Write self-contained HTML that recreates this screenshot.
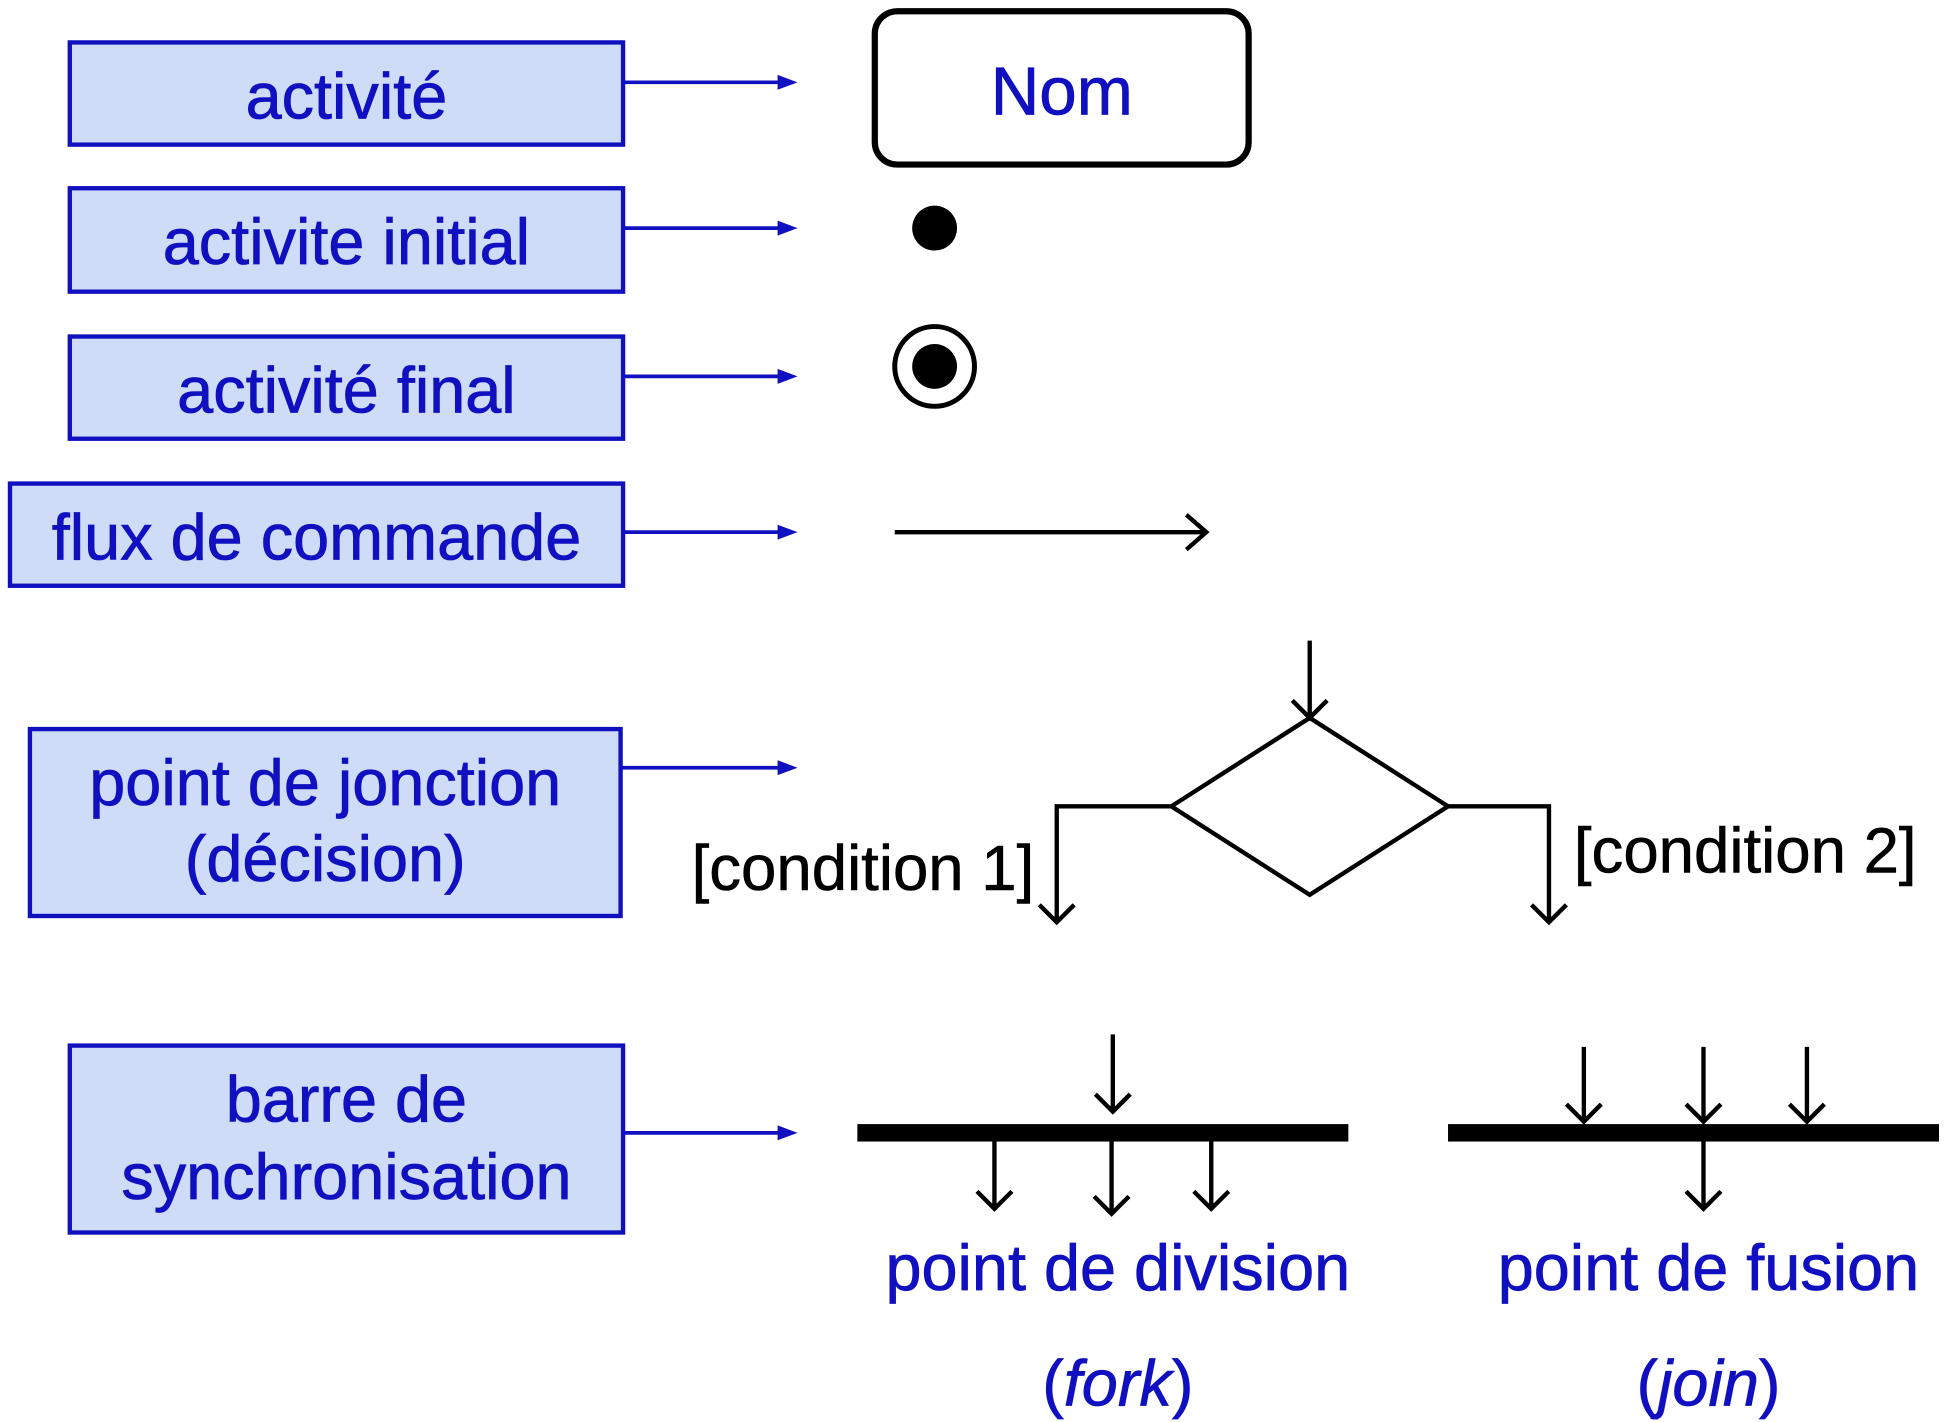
<!DOCTYPE html>
<html><head><meta charset="utf-8"><style>html,body{margin:0;padding:0;background:#fff}svg{display:block}</style></head>
<body>
<svg width="1944" height="1422" viewBox="0 0 1560 1141" xmlns="http://www.w3.org/2000/svg" font-family="Liberation Sans, sans-serif">
<g fill="#cfdcf8" stroke="#1010c0" stroke-width="3.5">
<rect x="56" y="34" width="444" height="82"/>
<rect x="56" y="151" width="444" height="83"/>
<rect x="56" y="270" width="444" height="82"/>
<rect x="8" y="388" width="492" height="82"/>
<rect x="24" y="585" width="474" height="150"/>
<rect x="56" y="839" width="444" height="150"/>
</g>
<g fill="#1010c0" stroke="#1010c0" stroke-width="0.6" font-size="52" text-anchor="middle">
<text x="278" y="95">activité</text>
<text x="278" y="212">activite initial</text>
<text x="278" y="331">activité final</text>
<text x="254" y="449">flux de commande</text>
<text x="261" y="646">point de jonction</text>
<text x="261" y="707">(décision)</text>
<text x="278" y="900">barre de</text>
<text x="278" y="962">synchronisation</text>
<text x="852" y="92" font-size="54">Nom</text>
<text x="897" y="1035">point de division</text>
<text x="1371" y="1035">point de fusion</text>
<text x="897" y="1128">(<tspan font-style="italic">fork</tspan>)</text>
<text x="1371" y="1128">(<tspan font-style="italic">join</tspan>)</text>
</g>
<g stroke="#1010c0" stroke-width="3" fill="none">
<line x1="500" y1="66" x2="630" y2="66"/><line x1="500" y1="183" x2="630" y2="183"/>
<line x1="500" y1="302" x2="630" y2="302"/><line x1="500" y1="427" x2="630" y2="427"/>
<line x1="498" y1="616" x2="630" y2="616"/><line x1="500" y1="909" x2="630" y2="909"/>
</g>
<g fill="#1010c0">
<path d="M624,60 L640,66 L624,72z"/><path d="M624,177 L640,183 L624,189z"/>
<path d="M624,296 L640,302 L624,308z"/><path d="M624,421 L640,427 L624,433z"/>
<path d="M624,610 L640,616 L624,622z"/><path d="M624,903 L640,909 L624,915z"/>
</g>
<rect x="702" y="9" width="300" height="123" rx="18" fill="none" stroke="#000" stroke-width="5"/>
<circle cx="750" cy="183" r="18" fill="#000"/>
<circle cx="750" cy="294" r="32" fill="none" stroke="#000" stroke-width="4"/>
<circle cx="750" cy="294" r="18" fill="#000"/>
<g stroke="#000" stroke-width="3.5" fill="none">
<line x1="718" y1="427" x2="968" y2="427"/><path d="M952,413 L968,427 L952,441"/>
<path d="M1051,576 L1162,647 L1051,718 L940,647z"/>
<line x1="1051" y1="514" x2="1051" y2="576"/><path d="M1037,562 L1051,576 L1065,562"/>
<path d="M940,647 L848,647 L848,740"/><path d="M834,726 L848,740 L862,726"/>
<path d="M1162,647 L1243,647 L1243,740"/><path d="M1229,726 L1243,740 L1257,726"/>
<line x1="893" y1="830" x2="893" y2="892"/><path d="M879,878 L893,892 L907,878"/>
<line x1="798" y1="916" x2="798" y2="970"/><path d="M784,956 L798,970 L812,956"/>
<line x1="892" y1="916" x2="892" y2="974"/><path d="M878,960 L892,974 L906,960"/>
<line x1="972" y1="916" x2="972" y2="970"/><path d="M958,956 L972,970 L986,956"/>
<line x1="1271" y1="840" x2="1271" y2="900"/><path d="M1257,886 L1271,900 L1285,886"/>
<line x1="1367" y1="840" x2="1367" y2="900"/><path d="M1353,886 L1367,900 L1381,886"/>
<line x1="1450" y1="840" x2="1450" y2="900"/><path d="M1436,886 L1450,900 L1464,886"/>
<line x1="1367" y1="916" x2="1367" y2="970"/><path d="M1353,956 L1367,970 L1381,956"/>
</g>
<rect x="688" y="902" width="394" height="14" fill="#000"/>
<rect x="1162" y="902" width="394" height="14" fill="#000"/>
<g fill="#000" stroke="#000" stroke-width="0.5" font-size="51">
<text x="555" y="714">[condition 1]</text>
<text x="1263" y="700">[condition 2]</text>
</g>
</svg>
</body></html>
